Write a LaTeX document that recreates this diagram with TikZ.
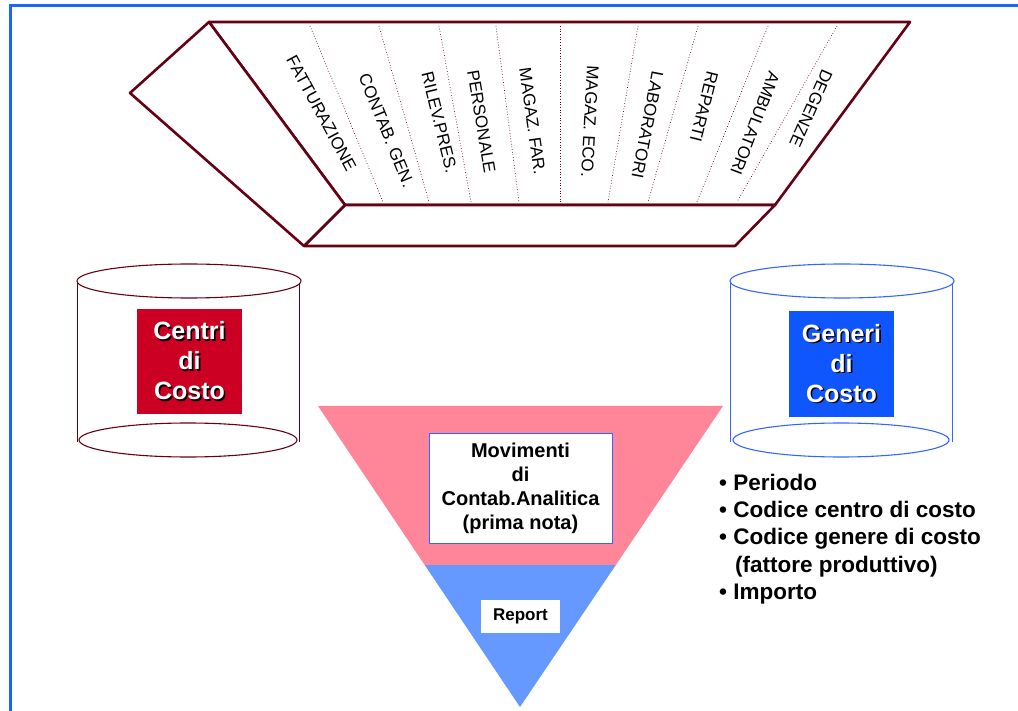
\documentclass[tikz,border=0pt]{standalone}
\usepackage{fontspec}
\setmainfont{Liberation Sans}
\usetikzlibrary{positioning}
\definecolor{trayred}{RGB}{102,0,20}
\definecolor{boxred}{RGB}{204,0,34}
\definecolor{boxblue}{RGB}{16,86,255}
\definecolor{cylblue}{RGB}{51,102,255}
\definecolor{framblue}{RGB}{25,102,255}
\definecolor{funnelpink}{RGB}{255,133,153}
\definecolor{funnelblue}{RGB}{102,153,255}
\newcommand{\shadowed}[1]{\leavevmode\rlap{\kern1.6pt\raisebox{-1.6pt}{\color{black}#1}}#1}
\tikzset{
  trayface/.style={draw=trayred, line width=2.6pt, line join=round, fill=white},
  divider/.style={draw=trayred, dotted, line width=0.7pt},
  traylabel/.style={font=\fontsize{17}{20}\selectfont, inner sep=0pt},
  listline/.style={font=\bfseries\fontsize{22.5}{27}\selectfont, inner sep=0pt, anchor=base west},
}
\begin{document}
\begin{tikzpicture}
[
x=1pt, y=-1pt,
cylred/.style={draw=trayred, line width=1.1pt},
cylblu/.style={draw=cylblue, line width=1.1pt},
squarebox/.style={rectangle, minimum width=105pt, minimum height=105pt, text=white,
  align=center, font=\bfseries\fontsize{25}{30}\selectfont},
notebox/.style={rectangle, fill=white, align=center, font=\bfseries\fontsize{20}{24}\selectfont},
]
\useasboundingbox (0,0) rectangle (1018,711);

%Frame
\draw[framblue, line width=3pt] (10,711) -- (10,6) -- (1018,6);

%Tray
\coordinate (tray-tl) at (209,22);
\coordinate (tray-tr) at (910,22);
\coordinate (tray-ml) at (345,205);
\coordinate (tray-mr) at (775,205);
\coordinate (tray-bl) at (304,246);
\coordinate (tray-br) at (735,246);
\coordinate (tray-lx) at (130,93);
\draw[trayface] (tray-tl) -- (tray-tr) -- (tray-mr) -- (tray-ml) -- cycle;
\draw[trayface] (tray-ml) -- (tray-mr) -- (tray-br) -- (tray-bl) -- cycle;
\draw[trayface] (tray-tl) -- (tray-lx) -- (tray-bl) -- (tray-ml) -- cycle;
\foreach \a/\b in {310/383, 379/429, 439/471, 496/519, 560/560, 638/608, 698/648, 768/697, 837/737}
  \draw[divider] (\a,26) -- (\b,202);
\foreach \x/\y/\r/\t/\n in {321.5/113.5/-61.7/FATTURAZIONE/fatt,
    386.5/130.5/-67.8/CONTAB. GEN./contab,
    439.5/122.5/-76/RILEV.PRES./rilev,
    481.5/121.5/-80.6/PERSONALE/pers,
    532.5/121.5/-82/MAGAZ. FAR./magfar,
    590/121.5/-93/MAGAZ. ECO./mageco,
    647.5/125/-101/LABORATORI/lab,
    704/107/-104/REPARTI/rep,
    755/123.5/-111/AMBULATORI/amb,
    811/108.5/-114/DEGENZE/deg}
  \node[traylabel, rotate=\r] (\n) at (\x,\y) {\t};

%Cylinders
\draw[cylred] (189,281) ellipse [x radius=112, y radius=17];
\draw[cylred] (188,440) ellipse [x radius=109, y radius=17];
\draw[cylred] (77.5,283) -- (77.5,442);
\draw[cylred] (299.5,283) -- (299.5,442);
\draw[cylblu] (842,281) ellipse [x radius=112, y radius=17];
\draw[cylblu] (841,440) ellipse [x radius=108, y radius=17];
\draw[cylblu] (730.5,283) -- (730.5,442);
\draw[cylblu] (952.5,283) -- (952.5,442);
\node[squarebox, fill=boxred]  (centri) at (189.5,361.5) {\shadowed{Centri}\\\shadowed{di}\\\shadowed{Costo}};
\node[squarebox, fill=boxblue] (generi) at (841.5,364) {\shadowed{Generi}\\\shadowed{di}\\\shadowed{Costo}};

%Funnel
\fill[funnelpink] (318,406) -- (723,406) -- (615.8,565) -- (424.7,565) -- cycle;
\fill[funnelblue] (424.7,565) -- (615.8,565) -- (520,707) -- cycle;
\node[notebox, draw=cylblue, line width=0.9pt, minimum width=183pt, minimum height=110pt]
  (movimenti) at (520.5,488) {Movimenti\\di\\Contab.Analitica\\(prima nota)};
\node[notebox, font=\bfseries\fontsize{17}{20}\selectfont, minimum width=79pt, minimum height=33pt]
  (report) at (520.5,616.5) {Report};

%List
\node[listline] (periodo) at (719,490) {• Periodo};
\node[listline] (centro)  at (719,517) {• Codice centro di costo};
\node[listline] (genere)  at (719,544) {• Codice genere di costo};
\node[listline] (fattore) at (735,572) {(fattore produttivo)};
\node[listline] (importo) at (719,599) {• Importo};

\end{tikzpicture}
\end{document}
